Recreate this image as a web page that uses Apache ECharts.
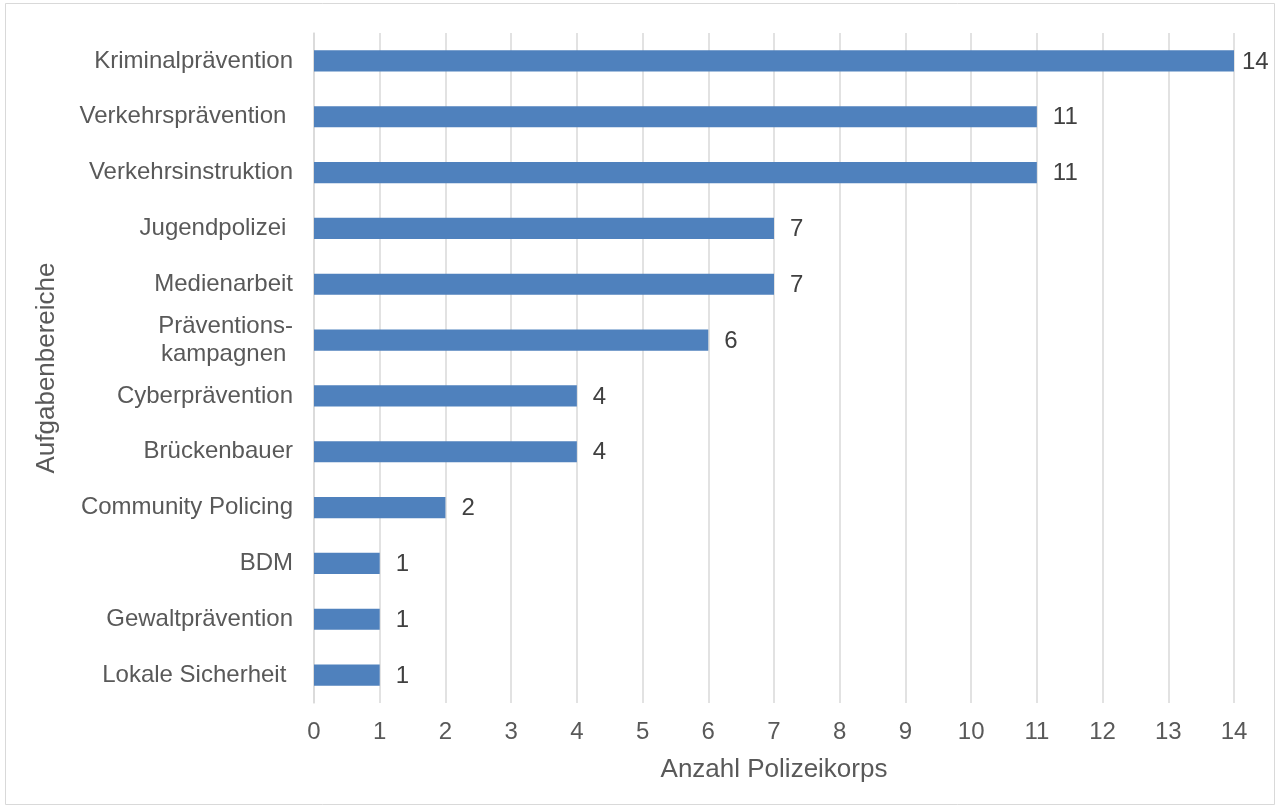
<!DOCTYPE html>
<html>
<head>
<meta charset="utf-8">
<script src="https://cdn.jsdelivr.net/npm/echarts@6/dist/echarts.min.js"></script>
<style>
html,body{margin:0;padding:0;background:#fff;}
#c{width:1277px;height:809px;}
</style>
</head>
<body>
<div id="c"></div>
<script>
const categories = [
  "Kriminalprävention",
  "Verkehrsprävention ",
  "Verkehrsinstruktion",
  "Jugendpolizei ",
  "Medienarbeit",
  "Präventions-\nkampagnen ",
  "Cyberprävention",
  "Brückenbauer",
  "Community Policing",
  "BDM",
  "Gewaltprävention",
  "Lokale Sicherheit "
];
const values = [14, 11, 11, 7, 7, 6, 4, 4, 2, 1, 1, 1];
const xTicks = [0,1,2,3,4,5,6,7,8,9,10,11,12,13,14];

const chart = echarts.init(document.getElementById('c'), null, {renderer:'canvas'});
const font = 'Liberation Sans, Arial, sans-serif';
const barData = values.map((v, i) => i === 0 ? {value: v, label: {distance: 8}} : v);
chart.setOption({
  animation:false,
  backgroundColor:'#ffffff',
  graphic:[{
    type:'rect', silent:true,
    shape:{x:5.5,y:3.5,width:1269,height:801},
    style:{fill:'none',stroke:'#d9d9d9',lineWidth:1}
  }],
  grid:{left:314,right:43,top:33,bottom:106,containLabel:false},
  xAxis:{
    type:'value', min:xTicks[0], max:xTicks[xTicks.length-1], interval:1,
    name:'Anzahl Polizeikorps', nameLocation:'middle', nameGap:54,
    nameTextStyle:{fontFamily:font,fontSize:26,color:'#595959'},
    axisLine:{show:false}, axisTick:{show:false},
    axisLabel:{fontFamily:font,fontSize:24,color:'#595959',margin:17},
    splitLine:{show:true,lineStyle:{color:'#d9d9d9',width:1.5}}
  },
  yAxis:{
    type:'category', data:categories, inverse:true,
    name:'Aufgabenbereiche', nameLocation:'middle', nameGap:254,
    nameTextStyle:{fontFamily:font,fontSize:26,color:'#595959'},
    axisLine:{show:true,lineStyle:{color:'#d9d9d9',width:1.5}},
    axisTick:{show:false},
    axisLabel:{fontFamily:font,fontSize:24,color:'#595959',margin:21,lineHeight:28,align:'right'}
  },
  series:[{
    type:'bar', data:barData, barWidth:'38%',
    itemStyle:{color:'#4f81bd'},
    label:{show:true,position:'right',distance:16,offset:[0,1],fontFamily:font,fontSize:24,color:'#404040'}
  }]
});
</script>
</body>
</html>
